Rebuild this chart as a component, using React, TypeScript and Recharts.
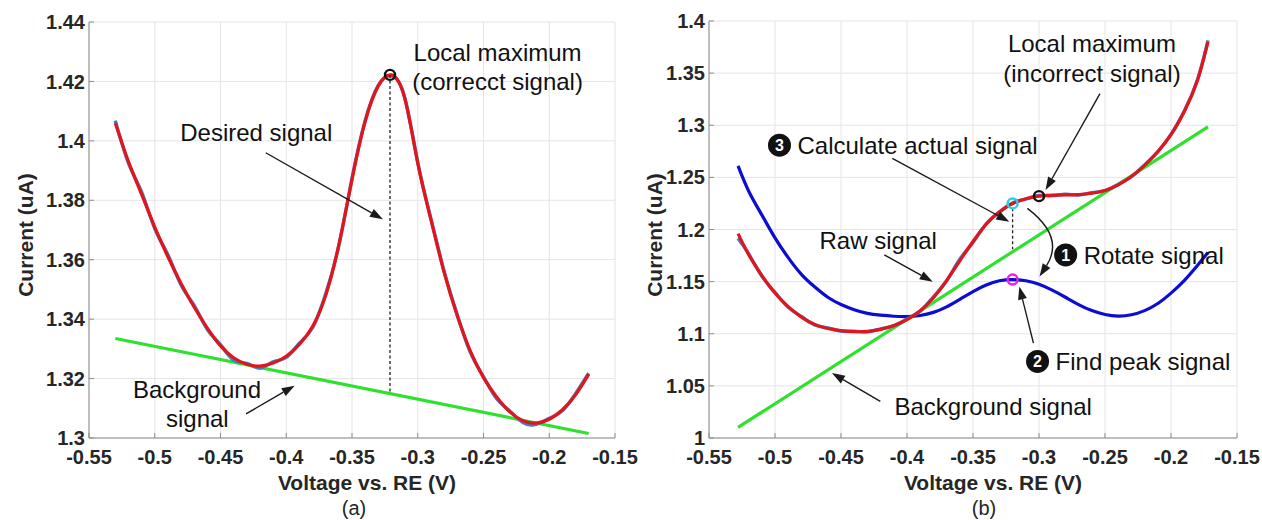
import React from 'react';
import { ComposedChart, Line, XAxis, YAxis, CartesianGrid, ReferenceLine, ReferenceDot } from 'recharts';

const FONT = "'Liberation Sans', Arial, Helvetica, sans-serif";

// shared x ticks
const xTicks = [-0.55, -0.5, -0.45, -0.4, -0.35, -0.3, -0.25, -0.2, -0.15];

// ---------- panel (a) ----------
const aYTicks = [1.3, 1.32, 1.34, 1.36, 1.38, 1.4, 1.42, 1.44];
const aX = [-0.53, -0.52, -0.51, -0.5, -0.49, -0.48, -0.47, -0.46, -0.45, -0.44, -0.43, -0.42, -0.41, -0.4, -0.39, -0.38, -0.37, -0.36, -0.35, -0.34, -0.33, -0.32, -0.31, -0.3, -0.29, -0.28, -0.27, -0.26, -0.25, -0.24, -0.23, -0.22, -0.21, -0.2, -0.19, -0.18, -0.17];
const aFit = [1.406, 1.393, 1.382, 1.371, 1.361, 1.352, 1.344, 1.337, 1.331, 1.327, 1.3248, 1.3242, 1.3252, 1.3275, 1.3315, 1.3375, 1.348, 1.365, 1.387, 1.4065, 1.4185, 1.4222, 1.4145, 1.3925, 1.3735, 1.3558, 1.3412, 1.3292, 1.3203, 1.3138, 1.3088, 1.3058, 1.305, 1.3063, 1.3095, 1.3145, 1.3215];
const aRaw = [1.4068, 1.3925, 1.3828, 1.3705, 1.3617, 1.3515, 1.3446, 1.3365, 1.3314, 1.3262, 1.3251, 1.3235, 1.3256, 1.3271, 1.3319, 1.3371, 1.3485, 1.3648, 1.3874, 1.4068, 1.4187, 1.4219, 1.4148, 1.3928, 1.3739, 1.3562, 1.3415, 1.3288, 1.3206, 1.3132, 1.3091, 1.3052, 1.3046, 1.3066, 1.3092, 1.3149, 1.3218];
const aBgX = [-0.53, -0.17];
const aBgY = [1.3335, 1.3015];
const aPeak = { x: -0.3211, y: 1.4222, base: 1.315 };

// ---------- panel (b) ----------
const bYTicks = [1, 1.05, 1.1, 1.15, 1.2, 1.25, 1.3, 1.35, 1.4];
const bX = [-0.528, -0.52, -0.51, -0.5, -0.49, -0.48, -0.47, -0.46, -0.45, -0.44, -0.43, -0.42, -0.41, -0.4, -0.39, -0.38, -0.37, -0.36, -0.35, -0.34, -0.33, -0.32, -0.31, -0.3, -0.29, -0.28, -0.27, -0.26, -0.25, -0.24, -0.23, -0.22, -0.21, -0.2, -0.19, -0.18, -0.172];
const bFit = [1.196, 1.176, 1.156, 1.139, 1.126, 1.116, 1.109, 1.105, 1.103, 1.102, 1.1022, 1.1042, 1.1078, 1.1135, 1.122, 1.1345, 1.151, 1.17, 1.1885, 1.205, 1.217, 1.225, 1.2295, 1.232, 1.233, 1.2332, 1.2335, 1.2348, 1.2375, 1.2428, 1.2508, 1.2615, 1.2748, 1.291, 1.313, 1.343, 1.38];
const bRaw = [1.1915, 1.1768, 1.1553, 1.1396, 1.1254, 1.1166, 1.1085, 1.1056, 1.1026, 1.1024, 1.1018, 1.1047, 1.1076, 1.1141, 1.1216, 1.1354, 1.1508, 1.1714, 1.1876, 1.2054, 1.2166, 1.2254, 1.2292, 1.2326, 1.2324, 1.2338, 1.2331, 1.2352, 1.2372, 1.2432, 1.2506, 1.2619, 1.2744, 1.2913, 1.3134, 1.3434, 1.3815];
const bRot = [1.261, 1.237, 1.214, 1.192, 1.173, 1.157, 1.145, 1.135, 1.128, 1.123, 1.1195, 1.1178, 1.1168, 1.1165, 1.1175, 1.1205, 1.1258, 1.133, 1.1405, 1.1468, 1.1508, 1.152, 1.1508, 1.1475, 1.1418, 1.135, 1.128, 1.1222, 1.1185, 1.117, 1.1182, 1.1222, 1.129, 1.139, 1.151, 1.1655, 1.178];
const bBgX = [-0.528, -0.172];
const bBgY = [1.0102, 1.2985];
const bActual = { x: -0.32, y: 1.225, top: 1.2203, base: 1.181 };
const bLocalMax = { x: -0.3, y: 1.232 };
const bPeak = { x: -0.32, y: 1.152 };

const zip = (xs: number[], ys: number[]) => xs.map((x, i) => ({ x, y: ys[i] }));

const RED = '#e3151c';
const GREEN = '#2fe02f';
const BLUE = '#0c0cd2';
const RAW = '#3b7fc6';
const AXIS = '#8c8c8c';
const TXT = '#262626';

// ---------- drawing helpers ----------
const arrowHead = (x2: number, y2: number, ang: number) => {
  const L = 13, W = 4.5;
  const bx = x2 - L * Math.cos(ang), by = y2 - L * Math.sin(ang);
  const p1 = `${bx + W * Math.sin(ang)},${by - W * Math.cos(ang)}`;
  const p2 = `${bx - W * Math.sin(ang)},${by + W * Math.cos(ang)}`;
  return { bx, by, pts: `${x2},${y2} ${p1} ${p2}` };
};

const bad = (a: any[]) => a.some((v) => typeof v !== 'number' || isNaN(v));

const ArrowShape = (props: any) => {
  const { x1, y1, x2, y2 } = props;
  if (bad([x1, y1, x2, y2])) return <g />;
  const ang = Math.atan2(y2 - y1, x2 - x1);
  const h = arrowHead(x2, y2, ang);
  return (
    <g>
      <line x1={x1} y1={y1} x2={h.bx} y2={h.by} stroke="#1a1a1a" strokeWidth={1.4} />
      <polygon points={h.pts} fill="#1a1a1a" />
    </g>
  );
};

const CurvedArrowShape = (props: any) => {
  const { x1, y1, x2, y2 } = props;
  if (bad([x1, y1, x2, y2])) return <g />;
  const dx = x2 - x1, dy = y2 - y1;
  const len = Math.hypot(dx, dy);
  const nx = dy / len, ny = -dx / len;
  const cx = (x1 + x2) / 2 + nx * 32, cy = (y1 + y2) / 2 + ny * 32;
  const ang = Math.atan2(y2 - cy, x2 - cx);
  const h = arrowHead(x2, y2, ang);
  return (
    <g>
      <path d={`M${x1},${y1} Q${cx},${cy} ${h.bx},${h.by}`} fill="none" stroke="#1a1a1a" strokeWidth={1.4} />
      <polygon points={h.pts} fill="#1a1a1a" />
    </g>
  );
};

const DashShape = (props: any) => {
  const { x1, y1, x2, y2 } = props;
  return <line x1={x1} y1={y1} x2={x2} y2={y2} stroke="#222" strokeWidth={1.3} strokeDasharray="3 2.5" />;
};

const textShape = (label: string, size = 24) => (p: any) => (
  <text x={p.cx} y={p.cy} dy="0.36em" textAnchor="middle" fontFamily={FONT} fontSize={size} fill="#111">
    {label}
  </text>
);

const numberedShape = (n: string, label: string) => (p: any) => (
  <g>
    <circle cx={p.cx} cy={p.cy} r={11.5} fill="#111" />
    <text x={p.cx} y={p.cy} dy="0.36em" textAnchor="middle" fontFamily={FONT} fontSize={16} fontWeight="bold" fill="#fff">
      {n}
    </text>
    <text x={p.cx + 18} y={p.cy} dy="0.36em" textAnchor="start" fontFamily={FONT} fontSize={24} fill="#111">
      {label}
    </text>
  </g>
);

const markerShape = (color: string) => (p: any) => (
  <circle cx={p.cx} cy={p.cy} r={5} fill="none" stroke={color} strokeWidth={2.4} />
);

const noTick = () => <g />;
const tickStyle = { fontFamily: FONT, fontSize: 20, fontWeight: 'bold' as const, fill: TXT };

function Panel(props: {
  width: number;
  yTicks: number[];
  yDomain: [number, number];
  yWidth: number;
  margin: any;
  children: React.ReactNode;
}) {
  const { width, yTicks, yDomain, yWidth, margin, children } = props;
  return (
    <ComposedChart width={width} height={520} margin={margin}>
      <CartesianGrid stroke="#e4e4e4" strokeWidth={1} />
      <XAxis
        xAxisId={0}
        type="number"
        dataKey="x"
        domain={[-0.55, -0.15]}
        ticks={xTicks}
        interval={0}
        allowDataOverflow
        height={82}
        tickSize={-5}
        tickMargin={17}
        stroke={AXIS}
        tick={tickStyle}
      />
      <XAxis xAxisId="top" orientation="top" type="number" domain={[-0.55, -0.15]} ticks={xTicks} interval={0} allowDataOverflow height={0} tickSize={-5} stroke={AXIS} tick={noTick} />
      <YAxis
        yAxisId={0}
        type="number"
        domain={yDomain}
        ticks={yTicks}
        interval={0}
        allowDataOverflow
        width={yWidth}
        tickSize={-5}
        tickMargin={9}
        stroke={AXIS}
        tick={tickStyle}
      />
      <YAxis yAxisId="right" orientation="right" type="number" domain={yDomain} ticks={yTicks} interval={0} allowDataOverflow width={0} tickSize={-5} stroke={AXIS} tick={noTick} />
      {children}
    </ComposedChart>
  );
}

const lineCommon = { dot: false, activeDot: false, isAnimationActive: false, dataKey: 'y' } as const;

export default function App() {
  const aRawData = zip(aX, aRaw);
  const aFitData = zip(aX, aFit);
  const aBgData = zip(aBgX, aBgY);
  const bRawData = zip(bX, bRaw);
  const bFitData = zip(bX, bFit);
  const bRotData = zip(bX, bRot);
  const bBgData = zip(bBgX, bBgY);

  const overlay = (style: React.CSSProperties, text: string) => (
    <div style={{ position: 'absolute', whiteSpace: 'nowrap', fontFamily: FONT, color: TXT, lineHeight: 1, ...style }}>{text}</div>
  );

  return (
    <div style={{ position: 'absolute', left: 0, top: 0, width: 1262, height: 520, background: '#fff', overflow: 'hidden' }}>
      <div style={{ position: 'absolute', left: 0, top: 0 }}>
        <Panel width={660} yTicks={aYTicks} yDomain={[1.3, 1.44]} yWidth={89} margin={{ top: 22, right: 45, bottom: 0, left: 0 }}>
          <Line {...lineCommon} data={aBgData} type="linear" stroke={GREEN} strokeWidth={3.2} />
          <Line {...lineCommon} data={aRawData} type="natural" stroke={RAW} strokeWidth={3.4} />
          <Line {...lineCommon} data={aFitData} type="natural" stroke={RED} strokeWidth={3.2} />
          <ReferenceLine segment={[{ x: aPeak.x, y: aPeak.y }, { x: aPeak.x, y: aPeak.base }]} shape={DashShape} />
          <ReferenceDot x={aPeak.x} y={aPeak.y} r={5} shape={markerShape('#111')} />
          <ReferenceDot x={-0.2393} y={1.4297} r={0} shape={textShape('Local maximum')} />
          <ReferenceDot x={-0.2393} y={1.4199} r={0} shape={textShape('(correcct signal)')} />
          <ReferenceDot x={-0.4228} y={1.4028} r={0} shape={textShape('Desired signal')} />
          <ReferenceLine segment={[{ x: -0.4156, y: 1.396 }, { x: -0.3265, y: 1.3736 }]} shape={ArrowShape} />
          <ReferenceDot x={-0.4679} y={1.3165} r={0} shape={textShape('Background')} />
          <ReferenceDot x={-0.4676} y={1.3067} r={0} shape={textShape('signal')} />
          <ReferenceLine segment={[{ x: -0.4306, y: 1.3081 }, { x: -0.3936, y: 1.3176 }]} shape={ArrowShape} />
        </Panel>
      </div>
      <div style={{ position: 'absolute', left: 631, top: 0 }}>
        <Panel width={631} yTicks={bYTicks} yDomain={[1, 1.4]} yWidth={78} margin={{ top: 21, right: 25, bottom: 0, left: 0 }}>
          <Line {...lineCommon} data={bBgData} type="linear" stroke={GREEN} strokeWidth={3.2} />
          <Line {...lineCommon} data={bRotData} type="natural" stroke={BLUE} strokeWidth={3.2} />
          <Line {...lineCommon} data={bRawData} type="natural" stroke={RAW} strokeWidth={3.4} />
          <Line {...lineCommon} data={bFitData} type="natural" stroke={RED} strokeWidth={3.2} />
          <ReferenceLine segment={[{ x: bActual.x, y: bActual.top }, { x: bActual.x, y: bActual.base }]} shape={DashShape} />
          <ReferenceDot x={bActual.x} y={bActual.y} r={5} shape={markerShape('#1fd3e8')} />
          <ReferenceDot x={bLocalMax.x} y={bLocalMax.y} r={5} shape={markerShape('#111')} />
          <ReferenceDot x={bPeak.x} y={bPeak.y} r={5} shape={markerShape('#f01cf0')} />
          <ReferenceDot x={-0.2599} y={1.3783} r={0} shape={textShape('Local maximum')} />
          <ReferenceDot x={-0.2599} y={1.3502} r={0} shape={textShape('(incorrect signal)')} />
          <ReferenceLine segment={[{ x: -0.2538, y: 1.3304 }, { x: -0.295, y: 1.2378 }]} shape={ArrowShape} />
          <ReferenceDot x={-0.4966} y={1.2809} r={0} shape={numberedShape('3', 'Calculate actual signal')} />
          <ReferenceLine segment={[{ x: -0.4111, y: 1.2682 }, { x: -0.3225, y: 1.2075 }]} shape={ArrowShape} />
          <ReferenceDot x={-0.4218} y={1.19} r={0} shape={textShape('Raw signal')} />
          <ReferenceLine segment={[{ x: -0.4172, y: 1.1756 }, { x: -0.3805, y: 1.15 }]} shape={ArrowShape} />
          <ReferenceDot x={-0.2798} y={1.1756} r={0} shape={numberedShape('1', 'Rotate signal')} />
          <ReferenceLine segment={[{ x: -0.3088, y: 1.2203 }, { x: -0.2996, y: 1.1548 }]} shape={CurvedArrowShape} />
          <ReferenceDot x={-0.3011} y={1.0734} r={0} shape={numberedShape('2', 'Find peak signal')} />
          <ReferenceLine segment={[{ x: -0.3042, y: 1.091 }, { x: -0.3149, y: 1.1453 }]} shape={ArrowShape} />
          <ReferenceDot x={-0.3347} y={1.0303} r={0} shape={textShape('Background signal')} />
          <ReferenceLine segment={[{ x: -0.4202, y: 1.0351 }, { x: -0.4569, y: 1.0623 }]} shape={ArrowShape} />
        </Panel>
      </div>
      {overlay({ left: 25, top: 235, fontSize: 21, fontWeight: 'bold', transform: 'translate(-50%, -50%) rotate(-90deg)' }, 'Current (uA)')}
      {overlay({ left: 654, top: 235, fontSize: 21, fontWeight: 'bold', transform: 'translate(-50%, -50%) rotate(-90deg)' }, 'Current (uA)')}
      {overlay({ left: 367, top: 482, fontSize: 21, fontWeight: 'bold', transform: 'translate(-50%, -50%)' }, 'Voltage vs. RE (V)')}
      {overlay({ left: 993, top: 482, fontSize: 21, fontWeight: 'bold', transform: 'translate(-50%, -50%)' }, 'Voltage vs. RE (V)')}
      {overlay({ left: 354, top: 508, fontSize: 20, transform: 'translate(-50%, -50%)' }, '(a)')}
      {overlay({ left: 984, top: 508, fontSize: 20, transform: 'translate(-50%, -50%)' }, '(b)')}
    </div>
  );
}
